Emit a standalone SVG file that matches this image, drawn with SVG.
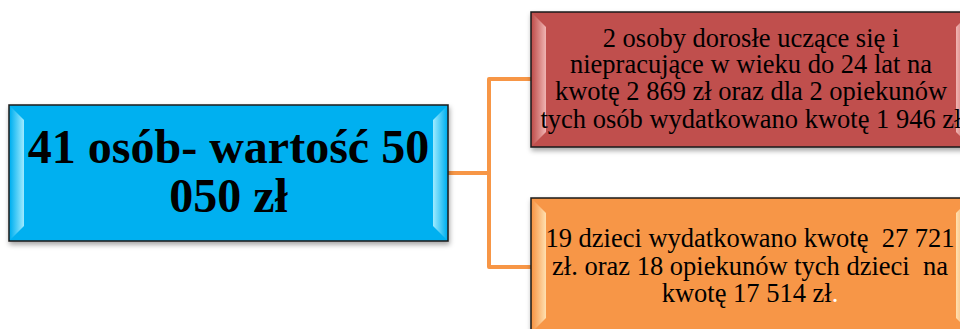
<svg xmlns="http://www.w3.org/2000/svg" width="960" height="329" viewBox="0 0 960 329">
<style>
.box{stroke:#1a1a1a;stroke-width:1.5}
.t{font-family:"Liberation Serif","Times New Roman",serif;text-anchor:middle;fill:#000}
.big{font-size:48px;font-weight:bold}
.small{font-size:26.5px;white-space:pre}
.conn{fill:none;stroke:#F79646;stroke-width:4;stroke-linejoin:round}
</style>
<defs>
<filter id="sh" x="-10%" y="-10%" width="125%" height="130%">
<feDropShadow dx="1" dy="3" stdDeviation="2.5" flood-color="#000" flood-opacity="0.35"/>
</filter>
<linearGradient id="bL" x1="0" x2="1" y1="0" y2="0"><stop offset="0" stop-color="#00B0F0"/><stop offset="1" stop-color="#9FEBFF"/></linearGradient>
<linearGradient id="bR" x1="1" x2="0" y1="0" y2="0"><stop offset="0" stop-color="#00B0F0"/><stop offset="1" stop-color="#9FEBFF"/></linearGradient>
<linearGradient id="rL" x1="0" x2="1" y1="0" y2="0"><stop offset="0" stop-color="#C0504D"/><stop offset="1" stop-color="#F0B4B2"/></linearGradient>
<linearGradient id="rR" x1="1" x2="0" y1="0" y2="0"><stop offset="0" stop-color="#C0504D"/><stop offset="1" stop-color="#F0B4B2"/></linearGradient>
<linearGradient id="oL" x1="0" x2="1" y1="0" y2="0"><stop offset="0" stop-color="#F79646"/><stop offset="1" stop-color="#FFE0B0"/></linearGradient>
<linearGradient id="oR" x1="1" x2="0" y1="0" y2="0"><stop offset="0" stop-color="#F79646"/><stop offset="1" stop-color="#FFE0B0"/></linearGradient>
</defs>
<rect width="960" height="329" fill="#fff"/>
<g id="connectors">
<path class="conn" d="M448 173 H489 M531 79 H489 V267 H531"/>
</g>
<g id="node-main">
<rect class="box" x="9" y="105" width="439" height="136" fill="#00B0F0" filter="url(#sh)"/>
<polygon points="10,106 24,120 24,226 10,240" fill="url(#bL)"/>
<polygon points="447,106 433,120 433,226 447,240" fill="url(#bR)"/>
<text class="t big" x="228.5" y="163">41 osób- wartość 50</text>
<text class="t big" x="228.5" y="212">050 zł</text>
</g>
<g id="node-adults">
<rect class="box" x="531" y="12" width="440" height="135" fill="#C0504D" filter="url(#sh)"/>
<polygon points="532,13 546,27 546,132 532,146" fill="url(#rL)"/>
<polygon points="970,13 956,27 956,132 970,146" fill="url(#rR)"/>
<text class="t small" x="751" y="47">2 osoby dorosłe uczące się i</text>
<text class="t small" x="751" y="73">niepracujące w wieku do 24 lat na</text>
<text class="t small" x="751" y="100">kwotę 2 869 zł oraz dla 2 opiekunów</text>
<text class="t small" x="751" y="128">tych osób wydatkowano kwotę 1 946 zł</text>
</g>
<g id="node-children">
<rect class="box" x="531" y="198" width="440" height="135" fill="#F79646" filter="url(#sh)"/>
<polygon points="532,199 546,213 546,318 532,332" fill="url(#oL)"/>
<polygon points="970,199 956,213 956,318 970,332" fill="url(#oR)"/>
<text class="t small" x="750" y="247">19 dzieci wydatkowano kwotę  27 721</text>
<text class="t small" x="750" y="275">zł. oraz 18 opiekunów tych dzieci  na</text>
<text class="t small" x="750" y="302">kwotę 17 514 zł<tspan fill="#fff">.</tspan></text>
</g>
</svg>
